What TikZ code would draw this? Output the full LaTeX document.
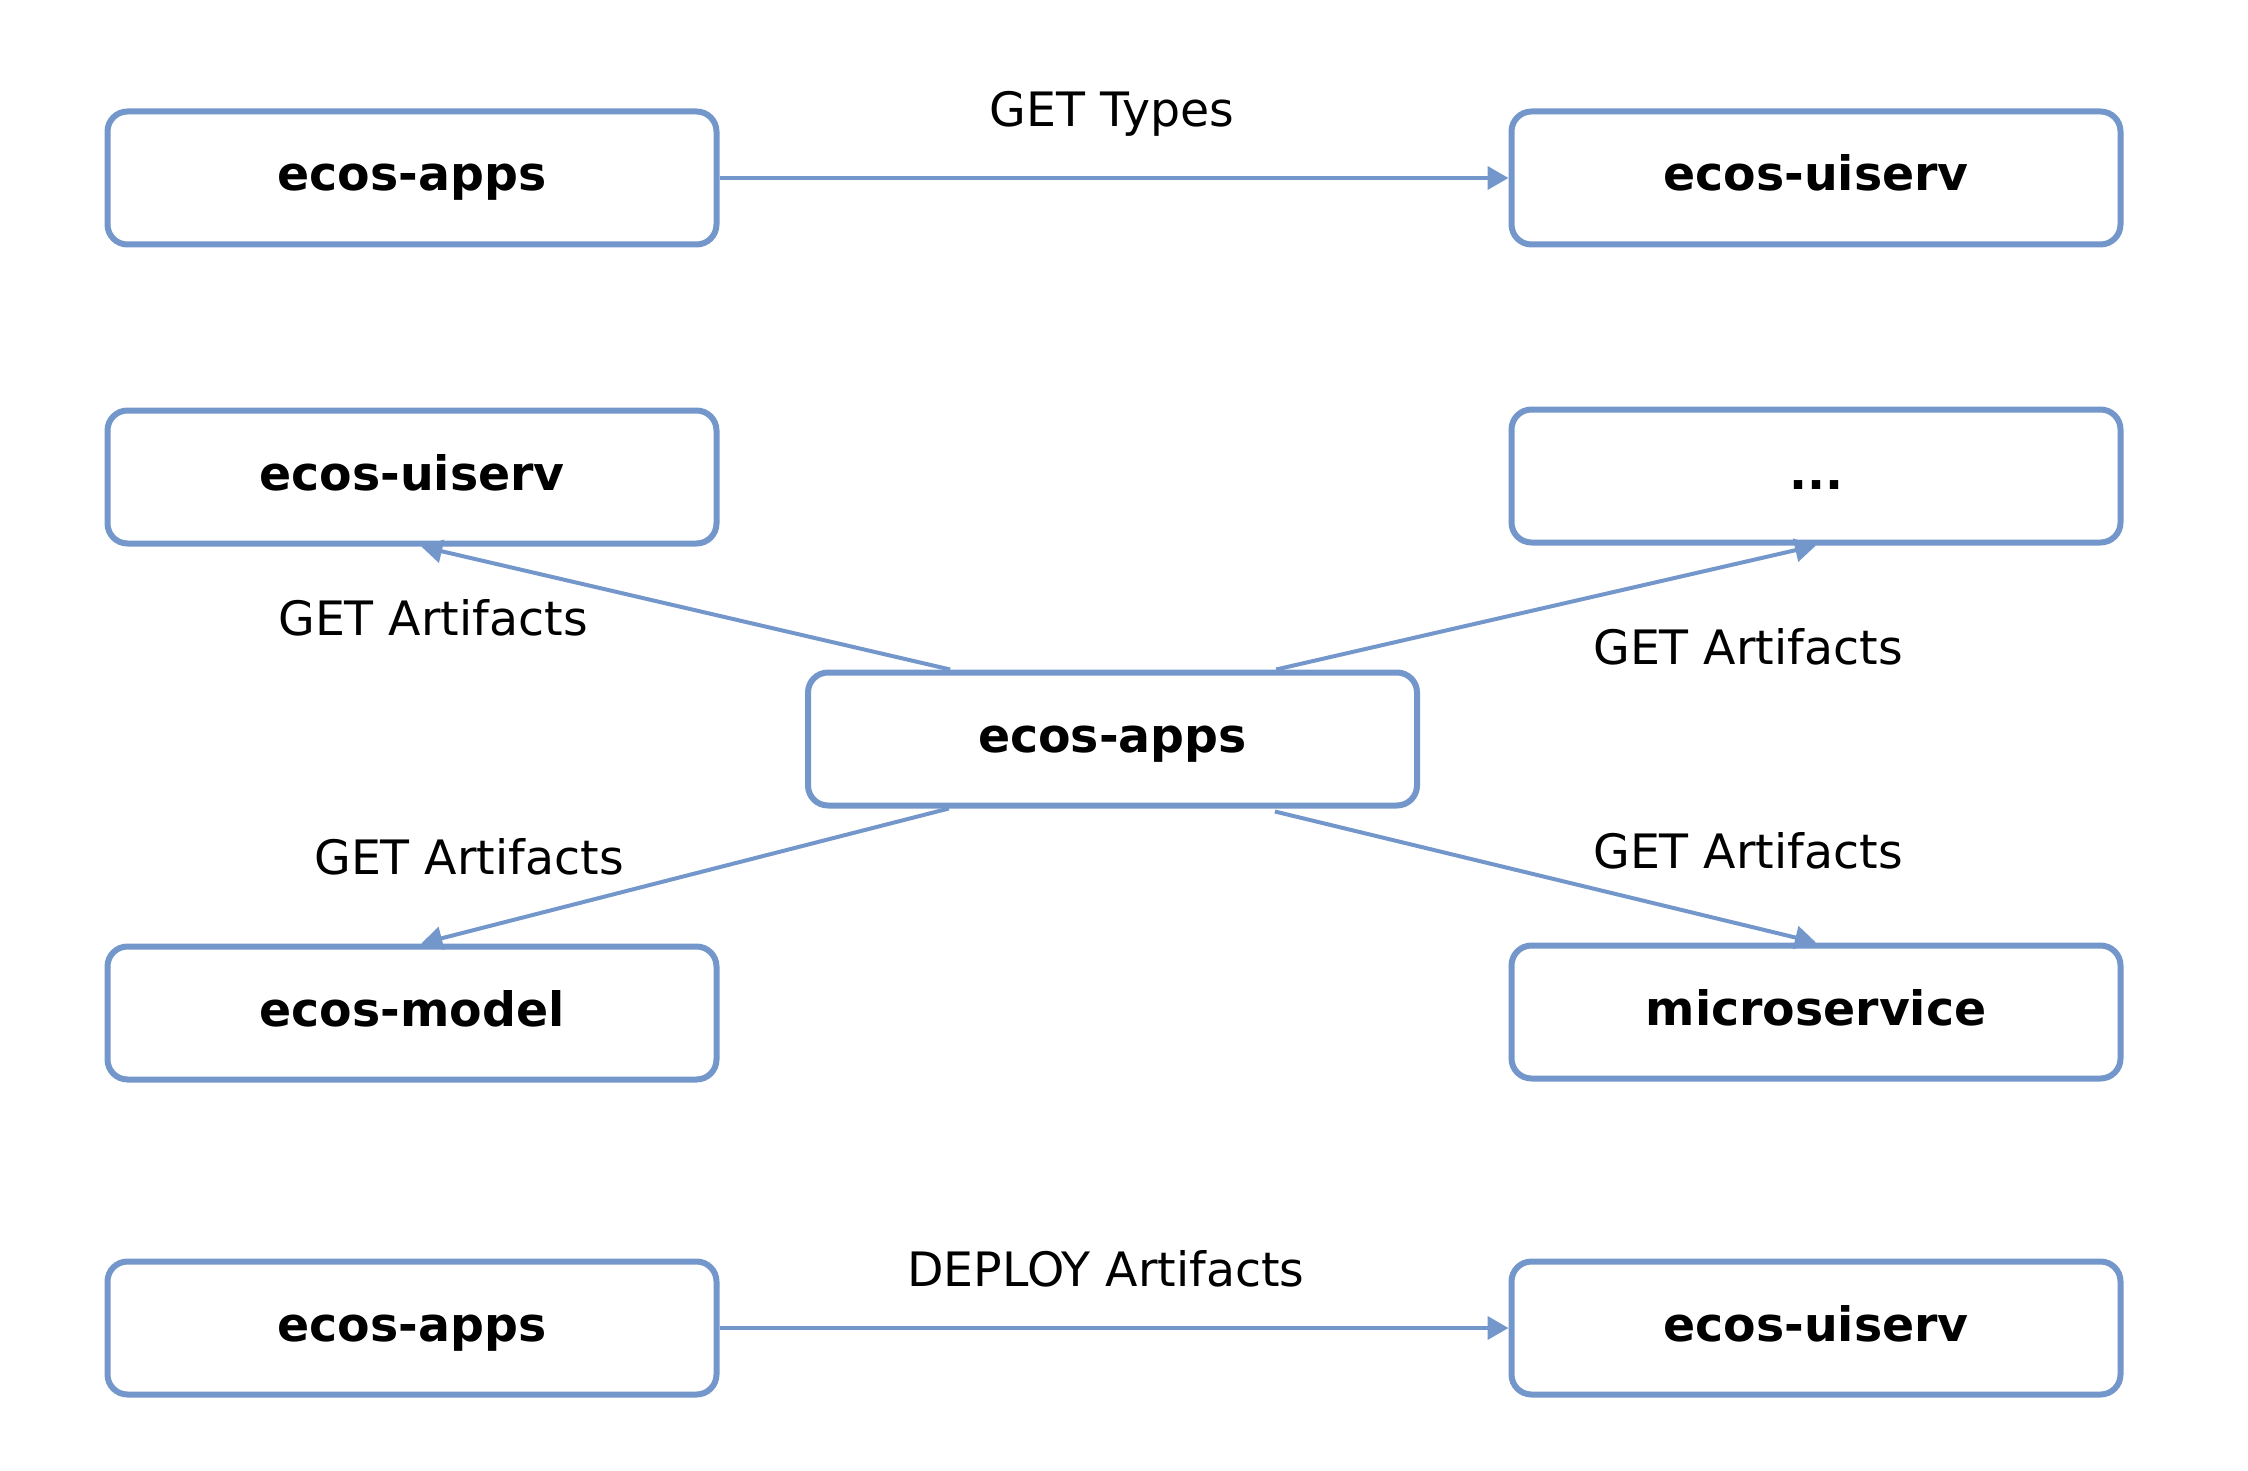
\documentclass[tikz,border=0pt]{standalone}
\usepackage{fontspec}
\setmainfont{DejaVu Sans}
\usetikzlibrary{calc,arrows.meta}
\definecolor{edgeblue}{HTML}{7497CB}
\begin{document}
\begin{tikzpicture}[x=0.5pt,y=-0.5pt,
  box/.style={draw=edgeblue,line width=3pt,rounded corners=10pt,fill=white,
    minimum width=304.5pt,minimum height=66.5pt,inner sep=0pt,
    text height=19pt,text depth=6pt,
    font=\fontsize{23.7}{28}\selectfont\bfseries},
  lbl/.style={inner sep=0pt,text height=17.3pt,text depth=0pt,
    font=\fontsize{23.7}{28}\selectfont},
  conn/.style={draw=edgeblue,line width=2pt,-{Triangle[length=10.5pt,width=11.5pt]}}]
\useasboundingbox (0,0) rectangle (2248,1471);
% nodes
\node[box] (a1) at (412,178) {ecos-apps};
\node[box] (u1) at (1816,178) {ecos-uiserv};
\node[box] (u2) at (412,477) {ecos-uiserv};
\node[box] (dots) at (1816,476) {...};
\node[box] (c) at (1112.5,739) {ecos-apps};
\node[box] (m) at (412,1013) {ecos-model};
\node[box] (ms) at (1816,1012) {microservice};
\node[box] (a3) at (412,1328) {ecos-apps};
\node[box] (u3) at (1816,1328) {ecos-uiserv};
% connectors
\draw[conn] (a1.east) -- (u1.west);
\draw[conn] (a3.east) -- (u3.west);
\draw[conn] ($(c.north west)!0.236!(c.north east)$) -- ($(u2.south west)!0.515!(u2.south east)$);
\draw[conn] ($(c.north west)!0.766!(c.north east)$) -- ($(dots.south west)!0.5!(dots.south east)$);
\draw[conn] ($(c.south west)!0.234!(c.south east)$) -- ($(m.north west)!0.515!(m.north east)$);
\draw[conn] ($(c.south west)!0.764!(c.south east)+(0,3)$) -- ($(ms.north west)!0.5!(ms.north east)$);
% labels
\node[lbl] (l1) at (1112,109) {GET Types};
\node[lbl] (l2) at (433,618) {GET Artifacts};
\node[lbl] (l3) at (1748,647) {GET Artifacts};
\node[lbl] (l4) at (469,857) {GET Artifacts};
\node[lbl] (l5) at (1748,851) {GET Artifacts};
\node[lbl] (l6) at (1106,1269) {DEPLOY Artifacts};
\end{tikzpicture}
\end{document}
